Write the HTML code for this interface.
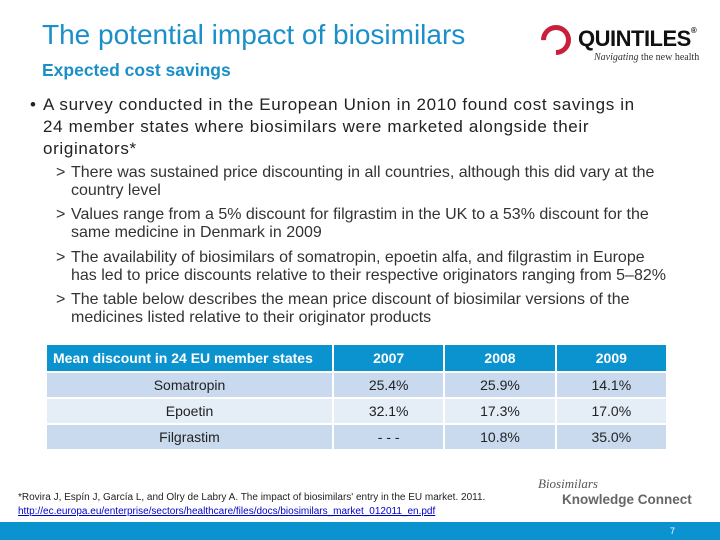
<!DOCTYPE html>
<html><head><meta charset="utf-8"><style>
body{margin:0;width:720px;height:540px;position:relative;background:#fff;font-family:"Liberation Sans",sans-serif;overflow:hidden}
.a{position:absolute}
td{padding:0;text-align:center;font-size:14px;color:#222}
.sb{position:relative;padding-left:15px;margin-bottom:6.3px}
</style></head><body>
<div class="a" style="left:42px;top:19px;font-size:28px;color:#1a8fc8">The potential impact of biosimilars</div>
<div class="a" style="left:42px;top:60px;font-size:17.5px;font-weight:bold;color:#1a8fc8">Expected cost savings</div>
<div class="a" style="left:540px;top:24px;width:170px;height:42px">
 <div class="a" style="left:1px;top:1px;width:20px;height:20px;border:5px solid #c8203c;border-radius:50%;border-bottom-color:transparent;transform:rotate(45deg)"></div>
 <div class="a" style="left:38px;top:2px;font-size:22px;font-weight:bold;color:#111;letter-spacing:-0.5px">QUINTILES<span style="font-size:8px;vertical-align:top">®</span></div>
 <div class="a" style="left:54px;top:28px;font-size:10px;font-family:'Liberation Serif',serif;color:#333"><i>Navigating</i> the new health</div>
</div>
<div class="a" style="left:30px;top:94px;width:625px;font-size:17px;letter-spacing:0.65px;line-height:22px;color:#222">
 <span style="position:absolute;left:0">•</span><div style="padding-left:13px">A survey conducted in the European Union in 2010 found cost savings in 24 member states where biosimilars were marketed alongside their originators*</div></div>
<div class="a" style="left:56px;top:164px;width:614px;font-size:16px;line-height:18px;color:#333">
 <div class="sb"><span class="a" style="left:0">&gt;</span>There was sustained price discounting in all countries, although this did vary at the country level</div>
 <div class="sb"><span class="a" style="left:0">&gt;</span>Values range from a 5% discount for filgrastim in the UK to a 53% discount for the same medicine in Denmark in 2009</div>
 <div class="sb"><span class="a" style="left:0">&gt;</span>The availability of biosimilars of somatropin, epoetin alfa, and filgrastim in Europe has led to price discounts relative to their respective originators ranging from 5–82%</div>
 <div class="sb"><span class="a" style="left:0">&gt;</span>The table below describes the mean price discount of biosimilar versions of the medicines listed relative to their originator products</div>
</div>
<table class="a" style="left:47px;top:345px;width:623px;border-collapse:separate;border-spacing:2px 2px;margin:-2px">
<tr style="height:26px;background:#0b93d0"><td style="width:279px;color:#fff;font-weight:bold;text-align:left;padding-left:6px">Mean discount in 24 EU member states</td><td style="color:#fff;font-weight:bold">2007</td><td style="color:#fff;font-weight:bold">2008</td><td style="color:#fff;font-weight:bold">2009</td></tr>
<tr style="height:24px;background:#c9d9ee"><td>Somatropin</td><td>25.4%</td><td>25.9%</td><td>14.1%</td></tr>
<tr style="height:24px;background:#e5edf7"><td>Epoetin</td><td>32.1%</td><td>17.3%</td><td>17.0%</td></tr>
<tr style="height:24px;background:#c9d9ee"><td>Filgrastim</td><td>- - -</td><td>10.8%</td><td>35.0%</td></tr>
</table>
<div class="a" style="left:18px;top:491px;font-size:10px;line-height:14px;color:#222">*Rovira J, Espín J, García L, and Olry de Labry A. The impact of biosimilars' entry in the EU market. 2011.<br><span style="color:#00c;text-decoration:underline">http://ec.europa.eu/enterprise/sectors/healthcare/files/docs/biosimilars_market_012011_en.pdf</span></div>
<div class="a" style="left:538px;top:476px;color:#555">
 <div style="font-family:'Liberation Serif',serif;font-style:italic;font-size:13px">Biosimilars</div>
 <div style="font-size:13.5px;font-weight:bold;margin-left:24px;color:#666">Knowledge Connect</div></div>
<div class="a" style="left:0;top:522px;width:720px;height:18px;background:#0b93d0"></div>
<div class="a" style="left:670px;top:526px;font-size:9px;color:#fff">7</div>
</body></html>
